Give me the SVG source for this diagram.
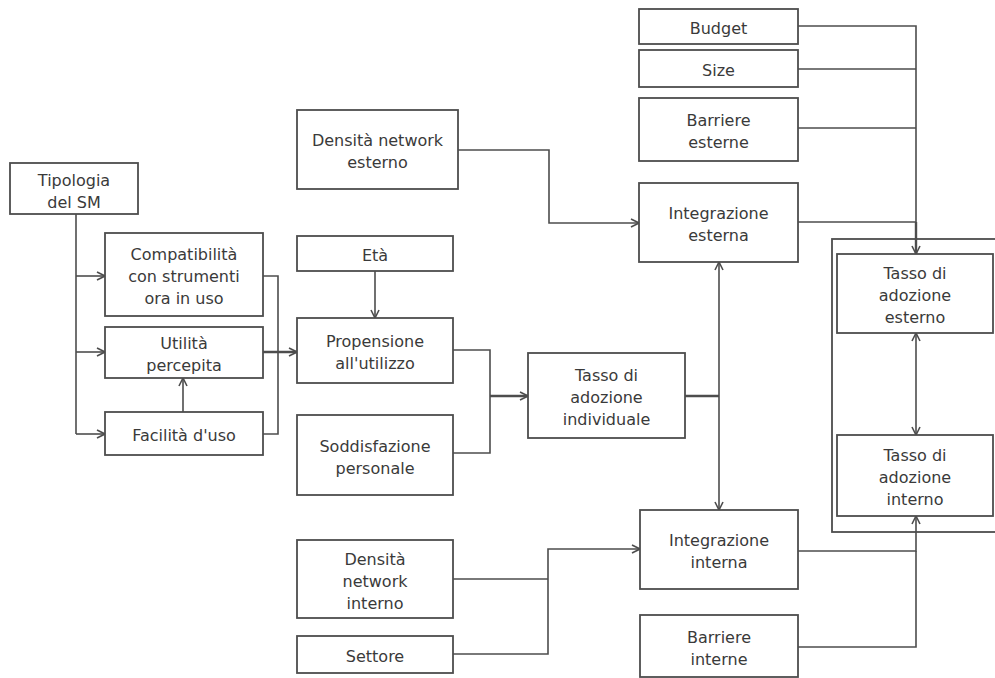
<svg xmlns="http://www.w3.org/2000/svg" width="995" height="678" viewBox="0 0 995 678">
  <style>
    .box { fill: #ffffff; stroke: #4d4d4d; stroke-width: 1.8; }
    .lbl { font-family: "DejaVu Sans", "Liberation Sans", sans-serif; font-size: 16px; fill: #3a3a3a; text-anchor: middle; }
    .wire { fill: none; stroke: #4d4d4d; stroke-width: 1.6; }
    .thick { stroke-width: 2.4; }
  </style>
  <defs>
    <marker id="arr" viewBox="0 0 10 10" refX="9" refY="5" markerWidth="10" markerHeight="10" markerUnits="userSpaceOnUse" orient="auto-start-reverse">
      <path d="M1,1 L9,5 L1,9" fill="none" stroke="#4d4d4d" stroke-width="1.6"/>
    </marker>
  </defs>
  <rect width="995" height="678" fill="#ffffff"/>

  <!-- outer frame around the two adoption-rate boxes -->
  <g id="frame-adozione">
    <rect class="box" x="832" y="239" width="170" height="293"/>
  </g>

  <g id="connectors">
    <!-- Tipologia del SM feeding the three perception boxes -->
    <path class="wire" d="M76 214 V434"/>
    <path class="wire" d="M76 276 H105" marker-end="url(#arr)"/>
    <path class="wire" d="M76 352 H105" marker-end="url(#arr)"/>
    <path class="wire" d="M76 434 H105" marker-end="url(#arr)"/>
    <path class="wire" d="M183 412 V378" marker-end="url(#arr)"/>
    <path class="wire" d="M263 276 H278 V434 H263"/>
    <path class="wire thick" d="M263 352 H297" marker-end="url(#arr)"/>
    <!-- Età, Propensione, Soddisfazione -->
    <path class="wire" d="M375 271 V318" marker-end="url(#arr)"/>
    <path class="wire" d="M453 350 H490 V453 H453"/>
    <path class="wire thick" d="M490 396 H528" marker-end="url(#arr)"/>
    <!-- Densità network esterno to Integrazione esterna -->
    <path class="wire" d="M458 150 H549 V223 H639" marker-end="url(#arr)"/>
    <!-- Tasso di adozione individuale to both integrations -->
    <path class="wire thick" d="M685 396 H719"/>
    <path class="wire" d="M719 262 V510" marker-start="url(#arr)" marker-end="url(#arr)"/>
    <!-- external factors into Tasso di adozione esterno -->
    <path class="wire" d="M798 26 H916 V222"/>
    <path class="wire thick" d="M916 222 V254" marker-end="url(#arr)"/>
    <path class="wire" d="M798 69 H916"/>
    <path class="wire" d="M798 128 H916"/>
    <path class="wire" d="M798 222 H916"/>
    <!-- esterno / interno link -->
    <path class="wire" d="M916 333 V435" marker-start="url(#arr)" marker-end="url(#arr)"/>
    <!-- internal factors into Tasso di adozione interno -->
    <path class="wire" d="M798 551 H916 V516" marker-end="url(#arr)"/>
    <path class="wire" d="M798 647 H916 V551"/>
    <!-- Densità network interno and Settore to Integrazione interna -->
    <path class="wire" d="M453 579 H548"/>
    <path class="wire" d="M453 654 H548 V549 H640" marker-end="url(#arr)"/>
  </g>

  <g id="tipologia">
    <rect class="box" x="10" y="163" width="128" height="51"/>
    <text class="lbl" x="74" y="186">Tipologia</text>
    <text class="lbl" x="74" y="208">del SM</text>
  </g>
  <g id="compatibilita">
    <rect class="box" x="105" y="233" width="158" height="83"/>
    <text class="lbl" x="184" y="260">Compatibilità</text>
    <text class="lbl" x="184" y="282">con strumenti</text>
    <text class="lbl" x="184" y="304">ora in uso</text>
  </g>
  <g id="utilita">
    <rect class="box" x="105" y="327" width="158" height="51"/>
    <text class="lbl" x="184" y="349">Utilità</text>
    <text class="lbl" x="184" y="371">percepita</text>
  </g>
  <g id="facilita">
    <rect class="box" x="105" y="412" width="158" height="43"/>
    <text class="lbl" x="184" y="441">Facilità d'uso</text>
  </g>
  <g id="densita-esterno">
    <rect class="box" x="297" y="110" width="161" height="79"/>
    <text class="lbl" x="377.5" y="146">Densità network</text>
    <text class="lbl" x="377.5" y="168">esterno</text>
  </g>
  <g id="eta">
    <rect class="box" x="297" y="236" width="156" height="35"/>
    <text class="lbl" x="375" y="261">Età</text>
  </g>
  <g id="propensione">
    <rect class="box" x="297" y="318" width="156" height="65"/>
    <text class="lbl" x="375" y="347">Propensione</text>
    <text class="lbl" x="375" y="369">all'utilizzo</text>
  </g>
  <g id="soddisfazione">
    <rect class="box" x="297" y="415" width="156" height="80"/>
    <text class="lbl" x="375" y="451.5">Soddisfazione</text>
    <text class="lbl" x="375" y="473.5">personale</text>
  </g>
  <g id="tasso-individuale">
    <rect class="box" x="528" y="353" width="157" height="85"/>
    <text class="lbl" x="606.5" y="381">Tasso di</text>
    <text class="lbl" x="606.5" y="403">adozione</text>
    <text class="lbl" x="606.5" y="425">individuale</text>
  </g>
  <g id="budget">
    <rect class="box" x="639" y="9" width="159" height="35"/>
    <text class="lbl" x="718.5" y="34">Budget</text>
  </g>
  <g id="size">
    <rect class="box" x="639" y="50" width="159" height="37"/>
    <text class="lbl" x="718.5" y="76">Size</text>
  </g>
  <g id="barriere-esterne">
    <rect class="box" x="639" y="98" width="159" height="63"/>
    <text class="lbl" x="718.5" y="126">Barriere</text>
    <text class="lbl" x="718.5" y="148">esterne</text>
  </g>
  <g id="integrazione-esterna">
    <rect class="box" x="639" y="183" width="159" height="79"/>
    <text class="lbl" x="718.5" y="219">Integrazione</text>
    <text class="lbl" x="718.5" y="241">esterna</text>
  </g>
  <g id="integrazione-interna">
    <rect class="box" x="640" y="510" width="158" height="79"/>
    <text class="lbl" x="719" y="546">Integrazione</text>
    <text class="lbl" x="719" y="568">interna</text>
  </g>
  <g id="barriere-interne">
    <rect class="box" x="640" y="615" width="158" height="62"/>
    <text class="lbl" x="719" y="642.5">Barriere</text>
    <text class="lbl" x="719" y="664.5">interne</text>
  </g>
  <g id="densita-interno">
    <rect class="box" x="297" y="540" width="156" height="78"/>
    <text class="lbl" x="375" y="564.5">Densità</text>
    <text class="lbl" x="375" y="586.5">network</text>
    <text class="lbl" x="375" y="608.5">interno</text>
  </g>
  <g id="settore">
    <rect class="box" x="297" y="636" width="156" height="37"/>
    <text class="lbl" x="375" y="662">Settore</text>
  </g>
  <g id="tasso-esterno">
    <rect class="box" x="837" y="254" width="156" height="79"/>
    <text class="lbl" x="915" y="279">Tasso di</text>
    <text class="lbl" x="915" y="301">adozione</text>
    <text class="lbl" x="915" y="323">esterno</text>
  </g>
  <g id="tasso-interno">
    <rect class="box" x="837" y="435" width="156" height="81"/>
    <text class="lbl" x="915" y="461">Tasso di</text>
    <text class="lbl" x="915" y="483">adozione</text>
    <text class="lbl" x="915" y="505">interno</text>
  </g>
</svg>
